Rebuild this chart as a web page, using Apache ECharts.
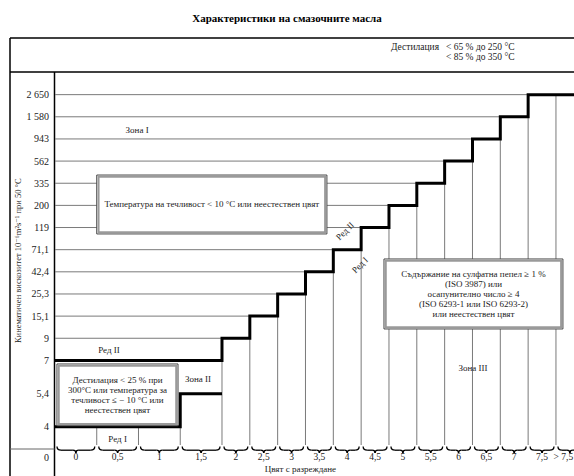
<!DOCTYPE html>
<html><head><meta charset="utf-8">
<style>html,body{margin:0;padding:0;background:#fff}#c{width:574px;height:476px}</style>
<script src="https://cdn.jsdelivr.net/npm/echarts@6/dist/echarts.min.js"></script>
</head><body><div id="c"></div><script>
// ---------- data ----------
const xCats = ['0','0,5','1','1,5','2','2,5','3','3,5','4','4,5','5','5,5','6','6,5','7','7,5','> 7,5'];
const yLevels = ['4','5,4','7','9','15,1','25,3','42,4','71,1','119','200','335','562','943','1 580','2 650'];
// upper limit of zone II/III (Ред II) and lower limit of zone II (Ред I) per colour column
const rowII = ['7','7','7','7','9','15,1','25,3','42,4','71,1','119','200','335','562','943','1 580','2 650','2 650'];
const rowI  = ['4','4','4','5,4','9','15,1','25,3','42,4','71,1','119','200','335','562','943','1 580','2 650','2 650'];
const zoneLabels = ['Зона I','Зона II','Зона III'];
const rowLabels = ['Ред I','Ред II'];
const headLabel = 'Дестилация';
const headLines = ['< 65 % до 250 °C','< 85 % до 350 °C'];
const noteTemp = ['Температура на течливост < 10 °C или неестествен цвят'];
const noteDist = ['Дестилация < 25 % при','300°C или температура за','течливост ≤ − 10 °C или','неестествен цвят'];
const noteAsh = ['Съдържание на сулфатна пепел ≥ 1 %','(ISO 3987) или','осапунително число ≥ 4','(ISO 6293-1 или ISO 6293-2)','или неестествен цвят'];
const bottomRowLabel = '0';

// ---------- layout ----------
const FONT = '"Liberation Serif", "DejaVu Serif", serif';
const TXT = '#222';
const colWidths = xCats.map((_, i) => i < 4 ? 1.5 : 1);
const edges = [0]; colWidths.forEach(w => edges.push(edges[edges.length - 1] + w));
const centers = colWidths.map((w, i) => edges[i] + w / 2);
const levelPos = [2, 3.5, 5, 6, 7, 8, 9, 10, 11, 12, 13, 14, 15, 16, 17];
const pos = l => levelPos[yLevels.indexOf(l)];
const DIV_END = 1.18;

const thin = [];
yLevels.forEach(l => {
  if (pos(l) <= pos(rowII[0])) return;
  const i = rowII.findIndex(r => pos(r) >= pos(l));
  thin.push([0, pos(l), edges[i], pos(l)]);
});
for (let i = 0; i < xCats.length - 1; i++) thin.push([edges[i + 1], pos(rowI[i]), edges[i + 1], DIV_END]);
const lastSplit = rowI.reduce((a, r, i) => r !== rowII[i] ? i : a, -1);
thin.push([edges[lastSplit + 1], pos(rowI[lastSplit]), edges[lastSplit + 1], pos(rowII[lastSplit])]);

const boldII = [];
rowII.forEach((r, i) => { boldII.push([edges[i], pos(r)], [edges[i + 1], pos(r)]); });
const boldI = [];
rowI.forEach((r, i) => { if (i <= lastSplit) boldI.push([edges[i], pos(r)], [edges[i + 1], pos(r)]); });

const braces = xCats.map((c, i) => [edges[i], edges[i + 1]]);

const notes = [
  {kind: 'box', r: [1.5, 10.71, 9.77, 13.37], lines: noteTemp},
  {kind: 'box', r: [0.07, 2.05, 4.42, 4.84], lines: noteDist},
  {kind: 'box', r: [11.82, 6.42, 18.25, 9.58], lines: noteAsh},
  {kind: 'text', p: [2.95, 15.4], t: zoneLabels[0]},
  {kind: 'text', p: [5.14, 4.16], t: zoneLabels[1]},
  {kind: 'text', p: [15.02, 4.66], t: zoneLabels[2]},
  {kind: 'text', p: [1.94, 5.47], t: rowLabels[1]},
  {kind: 'text', p: [2.25, 1.45], t: rowLabels[0]},
  {kind: 'text', p: [10.42, 10.84], t: rowLabels[1], rot: Math.PI / 4},
  {kind: 'text', p: [10.96, 9.31], t: rowLabels[0], rot: Math.PI / 4},
  {kind: 'text', p: [-0.22, 0.63], t: bottomRowLabel, align: 'right', size: 10}
];

const chart = echarts.init(document.getElementById('c'), null, {renderer: 'svg'});
const seg = (color, w) => (params, api) => {
  const a = api.coord([api.value(0), api.value(1)]), b = api.coord([api.value(2), api.value(3)]);
  return {type: 'line', shape: {x1: a[0], y1: a[1], x2: b[0], y2: b[1]}, style: {stroke: color, lineWidth: w}};
};
chart.setOption({
  animation: false,
  title: {text: 'Характеристики на смазочните масла', left: 'center', top: 7,
    textStyle: {fontFamily: FONT, fontSize: 11, fontWeight: 'bold', color: '#000'}},
  grid: {left: 55, top: 72.5, width: 528.8, height: 376.5, containLabel: false, outerBoundsMode: 'none'},
  xAxis: {type: 'value', min: 0, max: 19, splitLine: {show: false}, axisLine: {show: false}, axisTick: {show: false},
    axisLabel: {customValues: centers, margin: 3, fontFamily: FONT, fontSize: 9.5, color: TXT,
      formatter: v => {
        const i = centers.findIndex(c => Math.abs(c - v) < 1e-6);
        if (i < 0) return '';
        return i === xCats.length - 1 ? '{last|' + xCats[i] + '}' : xCats[i];
      },
      rich: {last: {fontFamily: FONT, fontSize: 9.5, color: TXT, padding: [0, 13, 0, 0]}}},
    name: 'Цвят с разреждане', nameLocation: 'middle', nameGap: 15.5, nameMoveOverlap: false,
    nameTextStyle: {fontFamily: FONT, fontSize: 9, color: TXT, padding: [0, 38, 0, 0]}},
  yAxis: {type: 'value', min: 1, max: 18, splitLine: {show: false}, axisLine: {show: false}, axisTick: {show: false},
    axisLabel: {customValues: levelPos, margin: 6, fontFamily: FONT, fontSize: 10, color: TXT,
      formatter: v => { const i = levelPos.findIndex(c => Math.abs(c - v) < 1e-6); return i >= 0 ? yLevels[i] : ''; }},
    name: 'Кинематичен вискозитет 10⁻⁶m²s⁻¹ при 50 °C', nameLocation: 'middle', nameGap: 33, nameMoveOverlap: false,
    nameTextStyle: {fontFamily: FONT, fontSize: 8.5, color: TXT}},
  graphic: [
    {type: 'line', shape: {x1: 10, y1: 38, x2: 574, y2: 38}, style: {stroke: '#000', lineWidth: 1.5}},
    {type: 'line', shape: {x1: 10, y1: 38, x2: 10, y2: 476}, style: {stroke: '#000', lineWidth: 1.5}},
    {type: 'line', shape: {x1: 10, y1: 72, x2: 574, y2: 72}, style: {stroke: '#000', lineWidth: 1.5}},
    {type: 'line', shape: {x1: 54.5, y1: 72, x2: 54.5, y2: 476}, style: {stroke: '#000', lineWidth: 1.5}},
    {type: 'line', shape: {x1: 10, y1: 449, x2: 54.5, y2: 449}, style: {stroke: '#666', lineWidth: 1}},
    {type: 'text', x: 439, y: 47, style: {text: headLabel, align: 'right', verticalAlign: 'middle', font: '9.5px ' + FONT, fill: TXT}},
    {type: 'text', x: 446, y: 47, style: {text: headLines[0], align: 'left', verticalAlign: 'middle', font: '9.5px ' + FONT, fill: TXT}},
    {type: 'text', x: 446, y: 57, style: {text: headLines[1], align: 'left', verticalAlign: 'middle', font: '9.5px ' + FONT, fill: TXT}}
  ],
  series: [
    {type: 'custom', name: 'grid', data: thin, z: 1, silent: true, clip: false, encode: {x: [0, 2], y: [1, 3]}, renderItem: seg('#7a7a7a', 1)},
    {type: 'line', name: 'Ред II', data: boldII, z: 3, silent: true, showSymbol: false, symbol: 'none',
      lineStyle: {color: '#000', width: 3, join: 'miter'}},
    {type: 'line', name: 'Ред I', data: boldI, z: 3, silent: true, showSymbol: false, symbol: 'none',
      lineStyle: {color: '#000', width: 3, join: 'miter'}},
    {type: 'custom', name: 'braces', data: braces, z: 2, silent: true, clip: false, encode: {x: [0, 1]},
      renderItem: (params, api) => {
        const l = api.coord([api.value(0), 1]), r = api.coord([api.value(1), 1]);
        const x0 = l[0] + 2, x1 = Math.min(r[0] - 2, 590), xm = (x0 + x1) / 2;
        const y0 = l[1] - 2.5, ym = l[1] + 1.2, yt = l[1] + 4;
        const st = {stroke: '#000', lineWidth: 1.3, fill: 'none'};
        return {type: 'group', children: [
          {type: 'bezierCurve', shape: {x1: x0, y1: y0, x2: x0 + 4, y2: ym, cpx1: x0, cpy1: ym}, style: st},
          {type: 'line', shape: {x1: x0 + 4, y1: ym, x2: xm - 3, y2: ym}, style: st},
          {type: 'bezierCurve', shape: {x1: xm - 3, y1: ym, x2: xm, y2: yt, cpx1: xm, cpy1: ym}, style: st},
          {type: 'bezierCurve', shape: {x1: xm, y1: yt, x2: xm + 3, y2: ym, cpx1: xm, cpy1: ym}, style: st},
          {type: 'line', shape: {x1: xm + 3, y1: ym, x2: x1 - 4, y2: ym}, style: st},
          {type: 'bezierCurve', shape: {x1: x1 - 4, y1: ym, x2: x1, y2: y0, cpx1: x1, cpy1: ym}, style: st}
        ]};
      }},
    {type: 'custom', name: 'notes', data: notes.map((n, i) => [i]), z: 5, silent: true, clip: false,
      renderItem: (params, api) => {
        const n = notes[params.dataIndex];
        if (n.kind === 'text') {
          const p = api.coord(n.p);
          return {type: 'text', x: p[0], y: p[1], rotation: n.rot || 0,
            style: {text: n.t, align: n.align || 'center', verticalAlign: 'middle', font: (n.size || 9) + 'px ' + FONT, fill: TXT}};
        }
        const a = api.coord([n.r[0], n.r[3]]), b = api.coord([n.r[2], n.r[1]]);
        const w = b[0] - a[0], h = b[1] - a[1];
        return {type: 'group', children: [
          {type: 'rect', shape: {x: a[0], y: a[1], width: w, height: h}, style: {fill: '#fff', stroke: '#444', lineWidth: 1}},
          {type: 'rect', shape: {x: a[0] + 1.8, y: a[1] + 1.8, width: w - 3.6, height: h - 3.6}, style: {fill: 'none', stroke: '#9a9a9a', lineWidth: 2}},
          {type: 'text', x: a[0] + w / 2, y: a[1] + h / 2,
            style: {text: n.lines.join('\n'), align: 'center', verticalAlign: 'middle', lineHeight: 10, font: '9px ' + FONT, fill: TXT}}
        ]};
      }}
  ]
});
</script></body></html>
